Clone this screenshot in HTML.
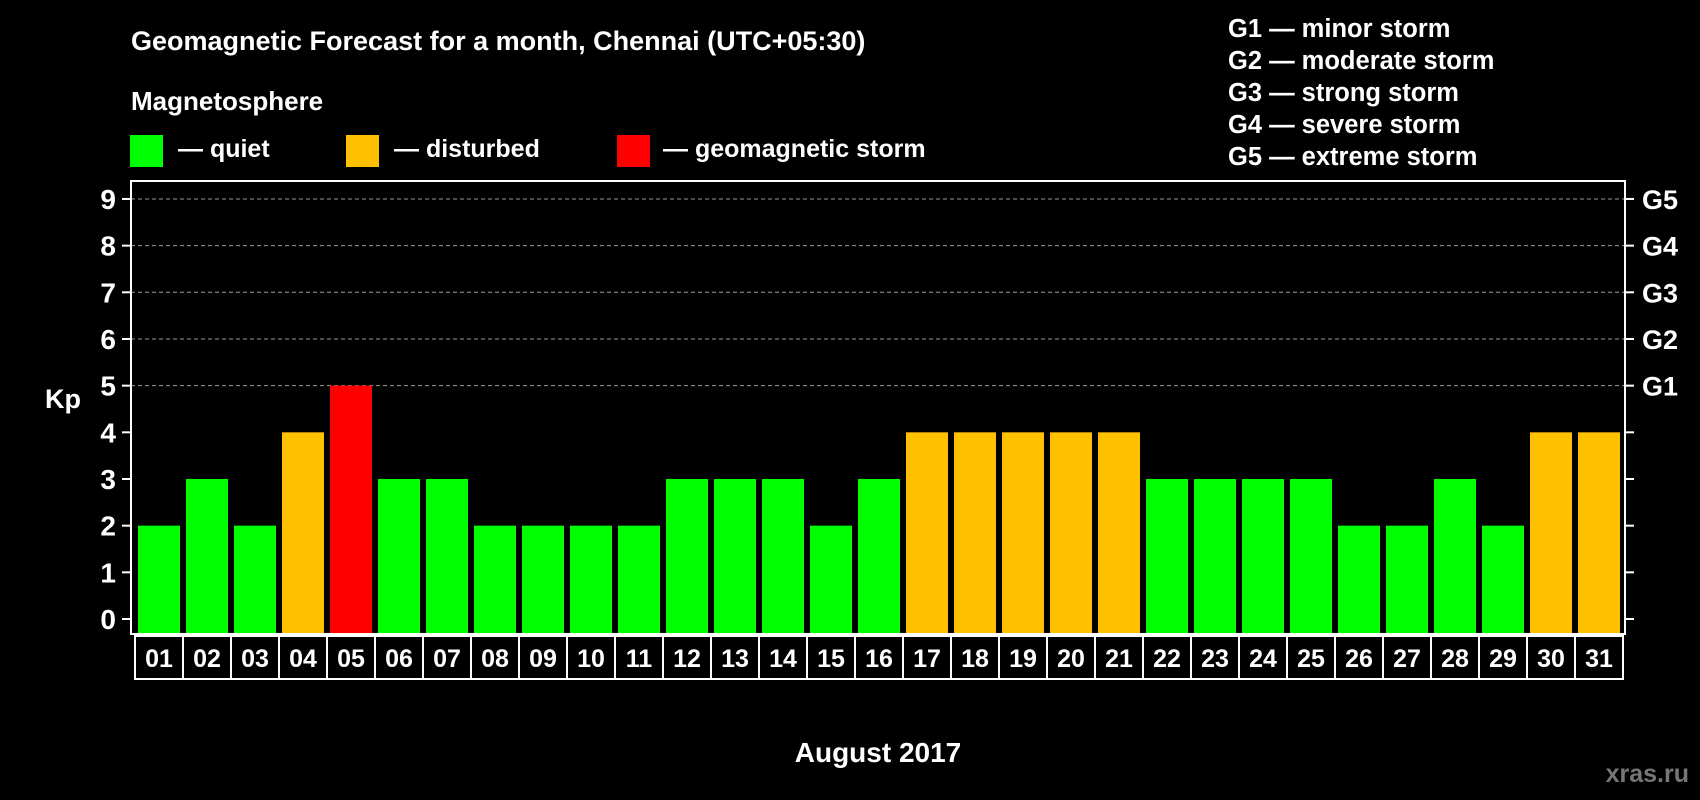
<!DOCTYPE html>
<html><head><meta charset="utf-8"><style>
html,body{margin:0;padding:0;background:#000;}
svg{display:block;font-family:"Liberation Sans",Arial,sans-serif;font-weight:bold;}
</style></head><body>
<svg id="chart" width="1700" height="800" viewBox="0 0 1700 800" xmlns="http://www.w3.org/2000/svg">
<rect width="1700" height="800" fill="#000"/>
<text x="131" y="50" fill="#fff" font-size="27">Geomagnetic Forecast for a month, Chennai (UTC+05:30)</text>
<text x="131" y="110" fill="#fff" font-size="26">Magnetosphere</text>
<g><rect x="130" y="135" width="33" height="32" fill="#00ff00"/><text x="178" y="157" fill="#fff" font-size="25">— quiet</text></g>
<g><rect x="346" y="135" width="33" height="32" fill="#ffc000"/><text x="394" y="157" fill="#fff" font-size="25">— disturbed</text></g>
<g><rect x="617" y="135" width="33" height="32" fill="#ff0000"/><text x="663" y="157" fill="#fff" font-size="25">— geomagnetic storm</text></g>
<g fill="#fff" font-size="25.5">
<text x="1228" y="37">G1 — minor storm</text>
<text x="1228" y="69">G2 — moderate storm</text>
<text x="1228" y="101">G3 — strong storm</text>
<text x="1228" y="133">G4 — severe storm</text>
<text x="1228" y="165">G5 — extreme storm</text>
</g>
<g id="plot"></g>
<text x="63" y="408" fill="#fff" font-size="27" text-anchor="middle">Kp</text>
<text x="878" y="762" fill="#fff" font-size="28" text-anchor="middle">August 2017</text>
<text x="1689" y="782" fill="#777" font-size="25" text-anchor="end">xras.ru</text>
</svg>
<script>
const days = ["01","02","03","04","05","06","07","08","09","10","11","12","13","14","15","16","17","18","19","20","21","22","23","24","25","26","27","28","29","30","31"];
const kpValues = [2,3,2,4,5,3,3,2,2,2,2,3,3,3,2,3,4,4,4,4,4,3,3,3,3,2,2,3,2,4,4];
const yTicks = [0,1,2,3,4,5,6,7,8,9];
const gLabels = ["","","","","","G1","G2","G3","G4","G5"];

const NS = "http://www.w3.org/2000/svg";
const plotG = document.getElementById('plot');
const pLeft = 131, pRight = 1625, pTop = 181, pBottom = 634;
const yZero = 619, unit = 46.67;
const boxLeft = 135, pitch = 48;
function yScale(v){ return yZero - v*unit; }
function xCenter(i){ return boxLeft + pitch/2 + i*pitch; }
function mk(tag, attrs){ const e=document.createElementNS(NS,tag); for(const k in attrs) e.setAttribute(k,attrs[k]); plotG.appendChild(e); return e; }
function barColor(v){ return v>=5 ? "#ff0000" : (v>=4 ? "#ffc000" : "#00ff00"); }

yTicks.forEach((t,i)=>{
  const y = yScale(t);
  if (t>=5) {
    const g = mk('line',{x1:pLeft,x2:pRight,y1:y,y2:y,stroke:'#999','stroke-width':1,'stroke-dasharray':'4,3'});
    
    
  }
  const lt = mk('line',{x1:122,x2:pLeft,y1:y,y2:y,stroke:'#fff','stroke-width':2});
  
  
  const rt = mk('line',{x1:pRight,x2:1634,y1:y,y2:y,stroke:'#fff','stroke-width':2});
  
  
  const tl = mk('text',{x:116,y:y+10,fill:'#fff','font-size':28,'text-anchor':'end'});
  tl.textContent = t;
  
  
  if (gLabels[i]) {
    const gl = mk('text',{x:1642,y:y+10,fill:'#fff','font-size':27});
    gl.textContent = gLabels[i];
    
    
  }
});

kpValues.forEach((v,i)=>{
  const cx = xCenter(i);
  const b = mk('rect',{x:cx-21,y:yScale(v),width:42,height:pBottom-yScale(v),fill:barColor(v)});
  
  
  const bx = mk('rect',{x:boxLeft+i*pitch,y:636,width:pitch,height:43,fill:'none',stroke:'#fff','stroke-width':2});
  
  
  const tx = mk('text',{x:cx,y:667,fill:'#fff','font-size':25,'text-anchor':'middle'});
  tx.textContent = days[i];
  
  
});

const frame = mk('rect',{x:pLeft,y:pTop,width:pRight-pLeft,height:pBottom-pTop,fill:'none',stroke:'#fff','stroke-width':2});


</script>
</body></html>
